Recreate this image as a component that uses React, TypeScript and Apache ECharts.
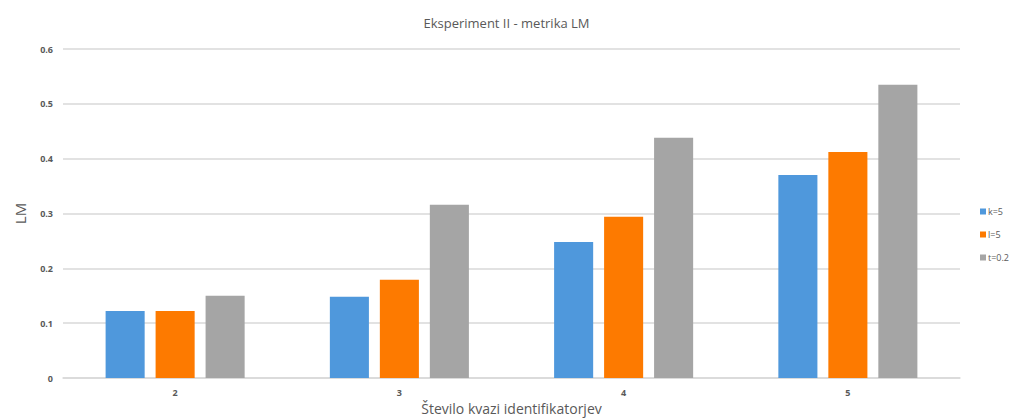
import React, { useEffect, useRef } from "react";
import * as echarts from "echarts";

const categories = ["2", "3", "4", "5"];
const seriesNames = ["k=5", "l=5", "t=0.2"];
const kValues = [0.122, 0.148, 0.248, 0.37];
const lValues = [0.122, 0.179, 0.294, 0.412];
const tValues = [0.15, 0.316, 0.438, 0.535];
const colors = ["#4f98dc", "#fd7a00", "#a5a5a5"];

const FONT = "'Open Sans', 'Noto Sans', sans-serif";

export default function App() {
  const ref = useRef<HTMLDivElement>(null);

  useEffect(() => {
    if (!ref.current) return;
    const chart = echarts.init(ref.current, undefined, { renderer: "svg" });
    const data = [kValues, lValues, tValues];
    chart.setOption({
      animation: false,
      backgroundColor: "#ffffff",
      title: {
        text: "Eksperiment II - metrika LM",
        left: "center",
        top: 11,
        textStyle: { fontFamily: FONT, fontSize: 13, fontWeight: "normal", color: "#595959" },
      },
      legend: {
        data: seriesNames,
        orient: "vertical",
        left: 980,
        top: 207,
        padding: 0,
        itemWidth: 6,
        itemHeight: 6,
        itemGap: 14,
        icon: "rect",
        textStyle: { fontFamily: FONT, fontSize: 9, color: "#595959", padding: [0, 0, 0, -3] },
      },
      grid: { left: 63, right: 53, top: 49, bottom: 41, outerBoundsMode: "none" },
      xAxis: {
        type: "category",
        data: categories,
        name: "Število kvazi identifikatorjev",
        nameLocation: "middle",
        nameGap: 22,
        nameTextStyle: { fontFamily: FONT, fontSize: 14, color: "#595959" },
        axisLine: { show: true, lineStyle: { color: "#d9d9d9", width: 1.5 } },
        axisTick: { show: false },
        axisLabel: { fontFamily: FONT, fontSize: 9, color: "#595959", fontWeight: "bold", margin: 10 },
      },
      yAxis: {
        type: "value",
        min: 0,
        max: 0.6,
        interval: 0.1,
        name: "LM",
        nameLocation: "middle",
        nameGap: 36,
        nameTextStyle: { fontFamily: FONT, fontSize: 15, color: "#595959" },
        axisLine: { show: false },
        axisTick: { show: false },
        axisLabel: { fontFamily: FONT, fontSize: 9, color: "#595959", fontWeight: "bold", margin: 10 },
        splitLine: { lineStyle: { color: "#d9d9d9", width: 1.5 } },
      },
      series: seriesNames.map((name, i) => ({
        name,
        type: "bar",
        data: data[i],
        barGap: "28%",
        barCategoryGap: "38%",
        itemStyle: { color: colors[i] },
      })),
    });
    return () => chart.dispose();
  }, []);

  return <div ref={ref} style={{ width: 1013, height: 419, position: "absolute", left: 0, top: 0 }} />;
}
